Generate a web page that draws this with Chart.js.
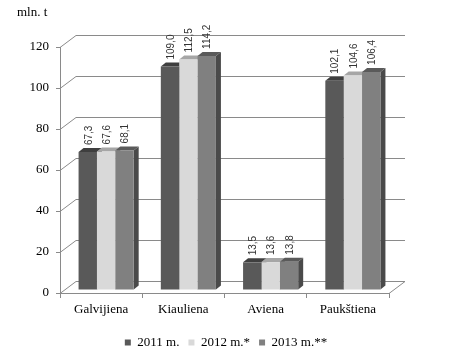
<!DOCTYPE html>
<html>
<head>
<meta charset="utf-8">
<script src="https://cdn.jsdelivr.net/npm/chart.js@4.4.1/dist/chart.umd.min.js"></script>
<style>
  body { margin: 0; background: #fff; }
  canvas { display: block; }
</style>
</head>
<body>
<canvas id="meatChart" width="452" height="363"></canvas>
<script>
const categories = ['Galvijiena', 'Kiauliena', 'Aviena', 'Paukštiena'];
const seriesNames = ['2011 m.', '2012 m.*', '2013 m.**'];
const values2011 = [67.3, 109.0, 13.5, 102.1];
const values2012 = [67.6, 112.5, 13.6, 104.6];
const values2013 = [68.1, 114.2, 13.8, 106.4];
const yTicks = [0, 20, 40, 60, 80, 100, 120];

const frontColors = ['#595959', '#d9d9d9', '#808080'];
const topColors = ['#3f3f3f', '#a6a6a6', '#5a5a5a'];
const sideColors = ['#333333', '#8c8c8c', '#4a4a4a'];

// glubina stenok i stolbikov
const WALL_DX = 16, WALL_DY = -12;
const BAR_SHIFT_X = 5, BAR_SHIFT_Y = -3;
const BAR_DX = 5, BAR_DY = -4;
const GRID = '#8a8a8a';
const SERIF = '"Liberation Serif", "Times New Roman", serif';

const fmt = v => v.toFixed(1).replace('.', ',');

const threeD = {
    id: 'threeD',
    beforeDatasetsDraw(chart) {
        const { ctx, chartArea: a, scales: { y } } = chart;
        ctx.save();
        ctx.strokeStyle = GRID;
        ctx.lineWidth = 1;
        ctx.beginPath();
        yTicks.forEach(t => {
            const py = Math.round(y.getPixelForValue(t)) + 0.5;
            ctx.moveTo(a.left, py);
            ctx.lineTo(a.left + WALL_DX, py + WALL_DY);
            ctx.lineTo(a.right + WALL_DX, py + WALL_DY);
        });
        const py0 = Math.round(y.getPixelForValue(0)) + 0.5;
        ctx.moveTo(a.right, py0);
        ctx.lineTo(a.right + WALL_DX, py0 + WALL_DY);
        ctx.stroke();
        ctx.restore();

        // bokovye grani i verh – pozadi perednih granej
        ctx.save();
        ctx.translate(BAR_SHIFT_X, BAR_SHIFT_Y);
        chart.data.datasets.forEach((ds, di) => {
            chart.getDatasetMeta(di).data.forEach(bar => {
                const l = bar.x - bar.width / 2, r = bar.x + bar.width / 2;
                const t = bar.y, b = bar.base;
                ctx.fillStyle = sideColors[di];
                ctx.beginPath();
                ctx.moveTo(r, t);
                ctx.lineTo(r + BAR_DX, t + BAR_DY);
                ctx.lineTo(r + BAR_DX, b + BAR_DY);
                ctx.lineTo(r, b);
                ctx.closePath();
                ctx.fill();
                ctx.fillStyle = topColors[di];
                ctx.beginPath();
                ctx.moveTo(l, t);
                ctx.lineTo(l + BAR_DX, t + BAR_DY);
                ctx.lineTo(r + BAR_DX, t + BAR_DY);
                ctx.lineTo(r, t);
                ctx.closePath();
                ctx.fill();
            });
        });
    },
    afterDatasetsDraw(chart) {
        const { ctx } = chart;
        ctx.fillStyle = '#333';
        ctx.font = '10px "Liberation Sans", Arial, sans-serif';
        ctx.textAlign = 'left';
        ctx.textBaseline = 'middle';
        chart.data.datasets.forEach((ds, di) => {
            chart.getDatasetMeta(di).data.forEach((bar, i) => {
                ctx.save();
                ctx.translate(bar.x + 1, bar.y - 7);
                ctx.rotate(-Math.PI / 2);
                ctx.fillText(fmt(ds.data[i]), 0, 0);
                ctx.restore();
            });
        });
        ctx.restore();
    },
    afterDraw(chart) {
        const { ctx } = chart;
        ctx.save();
        ctx.fillStyle = '#000';
        ctx.font = '13px ' + SERIF;
        ctx.textAlign = 'left';
        ctx.textBaseline = 'middle';
        ctx.fillText('mln. t', 17, 13);
        ctx.restore();
    }
};

const allValues = [values2011, values2012, values2013];

new Chart(document.getElementById('meatChart'), {
    type: 'bar',
    data: {
        labels: categories,
        datasets: seriesNames.map((name, i) => ({
            label: name,
            data: allValues[i],
            backgroundColor: frontColors[i],
            borderWidth: 0,
            categoryPercentage: 0.67,
            barPercentage: 1.0
        }))
    },
    options: {
        responsive: false,
        animation: false,
        layout: { padding: { top: 47, right: 0, bottom: 4, left: 0 } },
        plugins: {
            legend: {
                position: 'bottom',
                labels: {
                    boxWidth: 6,
                    boxHeight: 6,
                    padding: 9,
                    color: '#000',
                    font: { family: SERIF, size: 13 }
                }
            },
            tooltip: { enabled: false }
        },
        scales: {
            x: {
                grid: { drawOnChartArea: false, drawTicks: true, tickLength: 5, color: GRID },
                border: { display: true, color: GRID },
                ticks: {
                    color: '#000',
                    padding: 4,
                    font: { family: SERIF, size: 13 }
                },
                afterFit: s => { s.height = 34; }
            },
            y: {
                min: 0,
                max: 120,
                grid: { drawOnChartArea: false, drawTicks: true, tickLength: 4, color: GRID },
                border: { display: true, color: GRID },
                ticks: {
                    stepSize: 20,
                    color: '#000',
                    padding: 7,
                    font: { family: SERIF, size: 13 }
                },
                afterFit: s => { s.width = 60; }
            },
            // pustaja os' sprava – mesto pod zadnjuju stenku
            yRight: {
                position: 'right',
                min: 0,
                max: 120,
                grid: { display: false },
                border: { display: false },
                ticks: { display: false },
                afterFit: s => { s.width = 63; }
            }
        }
    },
    plugins: [threeD]
});
</script>
</body>
</html>
